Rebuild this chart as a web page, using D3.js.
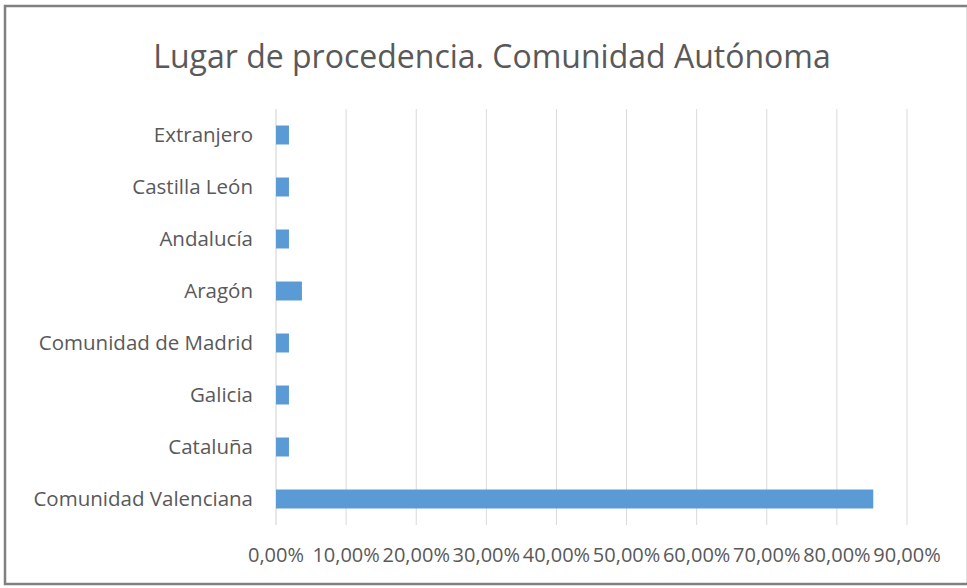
<!DOCTYPE html>
<html>
<head>
<meta charset="utf-8">
<script src="https://cdn.jsdelivr.net/npm/d3@7"></script>
<style>
  body { margin: 0; background: #fff; }
  text { font-family: "Open Sans", "Noto Sans", sans-serif; fill: #595959; }
</style>
</head>
<body>
<svg></svg>
<script>
const categories = ['Extranjero', 'Castilla León', 'Andalucía', 'Aragón',
  'Comunidad de Madrid', 'Galicia', 'Cataluña', 'Comunidad Valenciana'];
const values = [1.85, 1.85, 1.85, 3.70, 1.85, 1.85, 1.85, 85.19];
const ticks = [0, 10, 20, 30, 40, 50, 60, 70, 80, 90];

const width = 967, height = 588;
const margin = { top: 109, right: 60, bottom: 63, left: 276 };

const svg = d3.select('svg')
    .attr('width', width)
    .attr('height', height);

// chart frame
svg.append('rect')
    .attr('x', 5).attr('y', 6)
    .attr('width', width - 4).attr('height', height - 10)
    .attr('fill', '#fff')
    .attr('stroke', '#808080')
    .attr('stroke-width', 2.5);

const x = d3.scaleLinear()
    .domain([0, 90])
    .range([margin.left, 907]);

const y = d3.scaleBand()
    .domain(categories)
    .range([margin.top, height - margin.bottom])
    .paddingInner(0.635)
    .paddingOuter(0.3175);

// gridlines
svg.append('g')
    .selectAll('line')
    .data(ticks)
    .enter()
    .append('line')
    .attr('x1', d => x(d)).attr('x2', d => x(d))
    .attr('y1', margin.top).attr('y2', height - margin.bottom)
    .attr('stroke', d => d === 0 ? '#d0d0d0' : '#d9d9d9')
    .attr('stroke-width', 1);

// bars
svg.append('g')
    .selectAll('rect')
    .data(values)
    .enter()
    .append('rect')
    .attr('x', x(0))
    .attr('y', (d, i) => y(categories[i]))
    .attr('width', d => x(d) - x(0))
    .attr('height', y.bandwidth())
    .attr('fill', '#5b9bd5');

// category labels
svg.append('g')
    .selectAll('text')
    .data(categories)
    .enter()
    .append('text')
    .attr('x', 253)
    .attr('y', d => y(d) + y.bandwidth() / 2)
    .attr('dy', '0.35em')
    .attr('text-anchor', 'end')
    .style('font-size', '20.5px')
    .text(d => d);

// x tick labels
svg.append('g')
    .selectAll('text')
    .data(ticks)
    .enter()
    .append('text')
    .attr('x', d => x(d))
    .attr('y', 562)
    .attr('text-anchor', 'middle')
    .style('font-size', '20px')
    .text(d => d3.format('.2f')(d).replace('.', ',') + '%');

// title
svg.append('text')
    .attr('x', 492)
    .attr('y', 68)
    .attr('text-anchor', 'middle')
    .style('font-size', '32px')
    .text('Lugar de procedencia. Comunidad Autónoma');
</script>
</body>
</html>
